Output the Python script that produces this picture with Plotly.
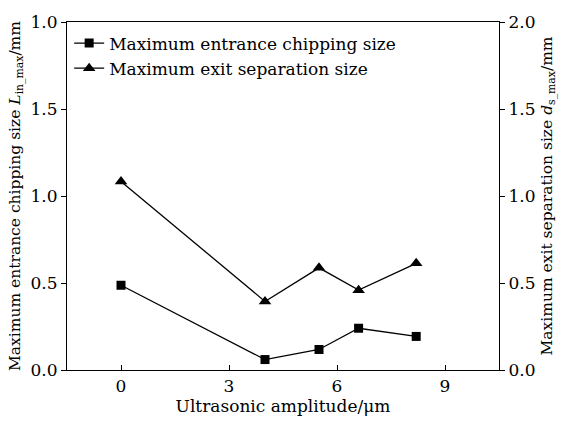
import plotly.graph_objects as go

amplitude = [0, 4, 5.5, 6.6, 8.2]
entrance_chipping = [0.487, 0.060, 0.118, 0.240, 0.193]
exit_separation = [1.084, 0.394, 0.587, 0.459, 0.613]

x_ticks = [0, 3, 6, 9]
y_tickvals = [0, 0.5, 1.0, 1.5, 2.0]
left_ticktext = ["0.0", "0.5", "1.0", "1.5", "1.0"]
right_ticktext = ["0.0", "0.5", "1.0", "1.5", "2.0"]

FONT = "DejaVu Serif"

fig = go.Figure()
fig.add_trace(go.Scatter(
    x=amplitude, y=entrance_chipping, mode="lines+markers",
    name="Maximum entrance chipping size",
    line=dict(color="black", width=1.3),
    marker=dict(symbol="square", size=9, color="black"),
))
fig.add_trace(go.Scatter(
    x=amplitude, y=exit_separation, mode="lines+markers",
    name="Maximum exit separation size", yaxis="y2",
    line=dict(color="black", width=1.3),
    marker=dict(symbol="triangle-up", size=11, color="black"),
))

fig.update_layout(
    width=564, height=424,
    margin=dict(l=67, r=53, t=18, b=51),
    paper_bgcolor="white", plot_bgcolor="white",
    font=dict(family=FONT, size=17, color="black"),
    showlegend=True,
    legend=dict(x=0.005, y=0.99, xanchor="left", yanchor="top",
                bgcolor="rgba(0,0,0,0)", borderwidth=0,
                font=dict(family=FONT, size=17, color="black"),
                tracegroupgap=0, itemwidth=30),
    xaxis=dict(
        range=[-1.5, 10.5], tickvals=x_ticks, ticks="inside", ticklen=5,
        tickcolor="black", showline=True, linecolor="black", linewidth=1.2,
        mirror=True, showgrid=False, zeroline=False,
        tickfont=dict(family=FONT, size=17),
        title=dict(text="Ultrasonic amplitude/μm", standoff=5,
                   font=dict(family=FONT, size=17)),
    ),
    yaxis=dict(
        range=[0, 2.0], tickvals=y_tickvals, ticktext=left_ticktext,
        ticks="outside", ticklen=5, tickcolor="black",
        showline=True, linecolor="black", linewidth=1.2,
        showgrid=False, zeroline=False,
        tickfont=dict(family=FONT, size=17),
        title=dict(text="Maximum entrance chipping size <i>L</i><sub>in_max</sub>/mm",
                   standoff=6, font=dict(family=FONT, size=15.5)),
    ),
    yaxis2=dict(
        range=[0, 2.0], tickvals=y_tickvals, ticktext=right_ticktext,
        overlaying="y", side="right",
        ticks="outside", ticklen=5, tickcolor="black",
        showline=True, linecolor="black", linewidth=1.2,
        showgrid=False, zeroline=False,
        tickfont=dict(family=FONT, size=17),
        title=dict(text="Maximum exit separation size <i>d</i><sub>s_max</sub>/mm",
                   standoff=6, font=dict(family=FONT, size=15.5)),
    ),
)

fig.write_html("out.html")
